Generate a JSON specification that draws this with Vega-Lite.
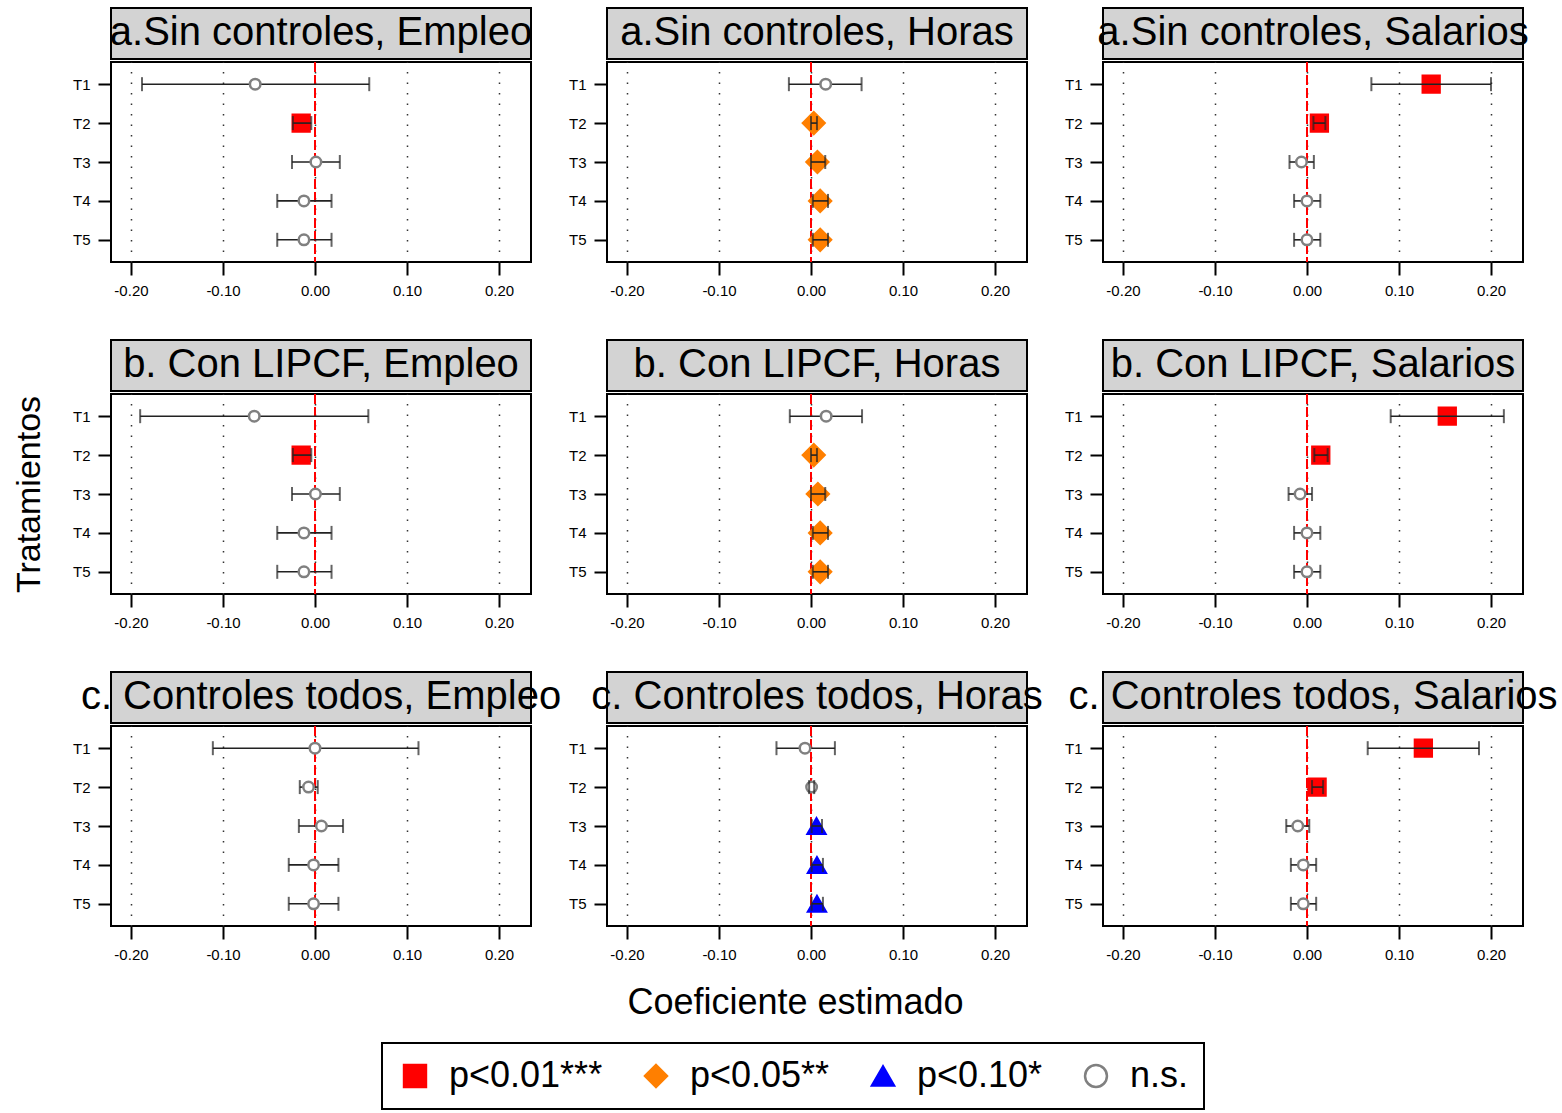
{
  "$schema": "https://vega.github.io/schema/vega-lite/v6.json",
  "padding": {"left": 11, "top": 7, "right": 0, "bottom": 0},
  "datasets": {
    "d": [
      {"panel": "a.Sin controles, Empleo", "trat": "T1", "est": -0.065, "lo": -0.188, "hi": 0.059, "sig": "n.s."},
      {"panel": "a.Sin controles, Empleo", "trat": "T2", "est": -0.015, "lo": -0.024, "hi": -0.004, "sig": "p<0.01***"},
      {"panel": "a.Sin controles, Empleo", "trat": "T3", "est": 0.001, "lo": -0.025, "hi": 0.027, "sig": "n.s."},
      {"panel": "a.Sin controles, Empleo", "trat": "T4", "est": -0.012, "lo": -0.041, "hi": 0.018, "sig": "n.s."},
      {"panel": "a.Sin controles, Empleo", "trat": "T5", "est": -0.012, "lo": -0.041, "hi": 0.018, "sig": "n.s."},
      {"panel": "a.Sin controles, Horas", "trat": "T1", "est": 0.016, "lo": -0.024, "hi": 0.055, "sig": "n.s."},
      {"panel": "a.Sin controles, Horas", "trat": "T2", "est": 0.003, "lo": 0.0, "hi": 0.0065, "sig": "p<0.05**"},
      {"panel": "a.Sin controles, Horas", "trat": "T3", "est": 0.007, "lo": 0.0, "hi": 0.0155, "sig": "p<0.05**"},
      {"panel": "a.Sin controles, Horas", "trat": "T4", "est": 0.010, "lo": 0.002, "hi": 0.0185, "sig": "p<0.05**"},
      {"panel": "a.Sin controles, Horas", "trat": "T5", "est": 0.010, "lo": 0.002, "hi": 0.0185, "sig": "p<0.05**"},
      {"panel": "a.Sin controles, Salarios", "trat": "T1", "est": 0.135, "lo": 0.070, "hi": 0.200, "sig": "p<0.01***"},
      {"panel": "a.Sin controles, Salarios", "trat": "T2", "est": 0.0135, "lo": 0.007, "hi": 0.020, "sig": "p<0.01***"},
      {"panel": "a.Sin controles, Salarios", "trat": "T3", "est": -0.006, "lo": -0.019, "hi": 0.0075, "sig": "n.s."},
      {"panel": "a.Sin controles, Salarios", "trat": "T4", "est": 0.0, "lo": -0.014, "hi": 0.0145, "sig": "n.s."},
      {"panel": "a.Sin controles, Salarios", "trat": "T5", "est": 0.0, "lo": -0.014, "hi": 0.0145, "sig": "n.s."},
      {"panel": "b. Con LIPCF, Empleo", "trat": "T1", "est": -0.066, "lo": -0.190, "hi": 0.058, "sig": "n.s."},
      {"panel": "b. Con LIPCF, Empleo", "trat": "T2", "est": -0.015, "lo": -0.024, "hi": -0.004, "sig": "p<0.01***"},
      {"panel": "b. Con LIPCF, Empleo", "trat": "T3", "est": 0.0005, "lo": -0.025, "hi": 0.027, "sig": "n.s."},
      {"panel": "b. Con LIPCF, Empleo", "trat": "T4", "est": -0.012, "lo": -0.041, "hi": 0.018, "sig": "n.s."},
      {"panel": "b. Con LIPCF, Empleo", "trat": "T5", "est": -0.012, "lo": -0.041, "hi": 0.018, "sig": "n.s."},
      {"panel": "b. Con LIPCF, Horas", "trat": "T1", "est": 0.0165, "lo": -0.023, "hi": 0.0555, "sig": "n.s."},
      {"panel": "b. Con LIPCF, Horas", "trat": "T2", "est": 0.003, "lo": 0.0, "hi": 0.0065, "sig": "p<0.05**"},
      {"panel": "b. Con LIPCF, Horas", "trat": "T3", "est": 0.0075, "lo": 0.0, "hi": 0.0155, "sig": "p<0.05**"},
      {"panel": "b. Con LIPCF, Horas", "trat": "T4", "est": 0.010, "lo": 0.002, "hi": 0.0185, "sig": "p<0.05**"},
      {"panel": "b. Con LIPCF, Horas", "trat": "T5", "est": 0.010, "lo": 0.002, "hi": 0.0185, "sig": "p<0.05**"},
      {"panel": "b. Con LIPCF, Salarios", "trat": "T1", "est": 0.1525, "lo": 0.091, "hi": 0.214, "sig": "p<0.01***"},
      {"panel": "b. Con LIPCF, Salarios", "trat": "T2", "est": 0.015, "lo": 0.008, "hi": 0.0225, "sig": "p<0.01***"},
      {"panel": "b. Con LIPCF, Salarios", "trat": "T3", "est": -0.0075, "lo": -0.020, "hi": 0.0055, "sig": "n.s."},
      {"panel": "b. Con LIPCF, Salarios", "trat": "T4", "est": 0.0, "lo": -0.014, "hi": 0.0145, "sig": "n.s."},
      {"panel": "b. Con LIPCF, Salarios", "trat": "T5", "est": 0.0, "lo": -0.014, "hi": 0.0145, "sig": "n.s."},
      {"panel": "c. Controles todos, Empleo", "trat": "T1", "est": 0.0, "lo": -0.111, "hi": 0.1125, "sig": "n.s."},
      {"panel": "c. Controles todos, Empleo", "trat": "T2", "est": -0.007, "lo": -0.0165, "hi": 0.003, "sig": "n.s."},
      {"panel": "c. Controles todos, Empleo", "trat": "T3", "est": 0.007, "lo": -0.0175, "hi": 0.0305, "sig": "n.s."},
      {"panel": "c. Controles todos, Empleo", "trat": "T4", "est": -0.0015, "lo": -0.0285, "hi": 0.0255, "sig": "n.s."},
      {"panel": "c. Controles todos, Empleo", "trat": "T5", "est": -0.0015, "lo": -0.0285, "hi": 0.0255, "sig": "n.s."},
      {"panel": "c. Controles todos, Horas", "trat": "T1", "est": -0.0065, "lo": -0.0375, "hi": 0.026, "sig": "n.s."},
      {"panel": "c. Controles todos, Horas", "trat": "T2", "est": 0.0007, "lo": -0.002, "hi": 0.0035, "sig": "n.s."},
      {"panel": "c. Controles todos, Horas", "trat": "T3", "est": 0.006, "lo": 0.0007, "hi": 0.012, "sig": "p<0.10*"},
      {"panel": "c. Controles todos, Horas", "trat": "T4", "est": 0.0065, "lo": 0.0007, "hi": 0.013, "sig": "p<0.10*"},
      {"panel": "c. Controles todos, Horas", "trat": "T5", "est": 0.0065, "lo": 0.0007, "hi": 0.013, "sig": "p<0.10*"},
      {"panel": "c. Controles todos, Salarios", "trat": "T1", "est": 0.1265, "lo": 0.066, "hi": 0.187, "sig": "p<0.01***"},
      {"panel": "c. Controles todos, Salarios", "trat": "T2", "est": 0.011, "lo": 0.0055, "hi": 0.0175, "sig": "p<0.01***"},
      {"panel": "c. Controles todos, Salarios", "trat": "T3", "est": -0.010, "lo": -0.0225, "hi": 0.0025, "sig": "n.s."},
      {"panel": "c. Controles todos, Salarios", "trat": "T4", "est": -0.004, "lo": -0.0175, "hi": 0.010, "sig": "n.s."},
      {"panel": "c. Controles todos, Salarios", "trat": "T5", "est": -0.004, "lo": -0.0175, "hi": 0.010, "sig": "n.s."}
    ]
  },
  "columns": 3,
  "align": {"row": "each", "column": "all"},
  "spacing": {"row": 40, "column": 0},
  "concat": [
    {"spacing": 0, "vconcat": [
      {"width": 420, "height": 51, "view": {"fill": "#d3d3d3", "stroke": "black", "strokeWidth": 2}, "data": {"values": [{"t": "a.Sin controles, Empleo"}]}, "mark": {"type": "text", "fontSize": 40, "baseline": "alphabetic", "dy": 11, "color": "black"}, "encoding": {"text": {"field": "t", "type": "nominal"}}},
      {"width": 420, "height": 200, "data": {"name": "d"}, "transform": [{"filter": "datum.panel === 'a.Sin controles, Empleo'"}], "layer": [
        {"mark": {"type": "rule", "color": "#ff0000", "strokeDash": [10, 3], "strokeWidth": 1.5}, "encoding": {"x": {"datum": 0, "type": "quantitative", "scale": {"domain": [-0.2217, 0.2348], "nice": false, "zero": false}, "axis": {"values": [-0.2, -0.1, 0, 0.1, 0.2], "labelExpr": "replace(format(datum.value, '.2f'), '−', '-')", "title": null}}}},
        {"transform": [{"filter": "datum.sig !== 'n.s.'"}], "mark": {"type": "point", "strokeWidth": 2, "opacity": 1, "fillOpacity": 1}, "encoding": {"x": {"field": "est", "type": "quantitative"}, "y": {"field": "trat", "type": "ordinal", "scale": {"type": "point", "domain": ["T1", "T2", "T3", "T4", "T5"], "padding": 0.57}, "axis": {"title": null}}, "shape": {"field": "sig", "type": "nominal", "title": null, "scale": {"domain": ["p<0.01***", "p<0.05**", "p<0.10*", "n.s."], "range": ["square", "diamond", "triangle-up", "circle"]}}, "fill": {"field": "sig", "type": "nominal", "title": null, "scale": {"domain": ["p<0.01***", "p<0.05**", "p<0.10*", "n.s."], "range": ["#ff0000", "#ff7f00", "#0000ff", "#ffffff"]}}, "stroke": {"field": "sig", "type": "nominal", "title": null, "scale": {"domain": ["p<0.01***", "p<0.05**", "p<0.10*", "n.s."], "range": ["#ff0000", "#ff7f00", "#0000ff", "#808080"]}}, "size": {"condition": [{"test": "datum.sig === 'n.s.'", "value": 110}, {"test": "datum.sig === 'p<0.05**'", "value": 500}, {"test": "datum.sig === 'p<0.10*'", "value": 340}], "value": 300}}},
        {"mark": {"type": "rule", "color": "#222222", "strokeWidth": 1.6}, "encoding": {"x": {"field": "lo", "type": "quantitative"}, "x2": {"field": "hi"}, "y": {"field": "trat", "type": "ordinal"}}},
        {"transform": [{"filter": "datum.sig === 'n.s.'"}], "mark": {"type": "point", "strokeWidth": 2.5, "opacity": 1, "fillOpacity": 1, "size": 110}, "encoding": {"x": {"field": "est", "type": "quantitative"}, "y": {"field": "trat", "type": "ordinal"}, "shape": {"field": "sig", "type": "nominal", "title": null}, "fill": {"field": "sig", "type": "nominal", "title": null}, "stroke": {"field": "sig", "type": "nominal", "title": null}}},
        {"mark": {"type": "tick", "color": "#222222", "thickness": 2, "size": 14}, "encoding": {"x": {"field": "lo", "type": "quantitative"}, "y": {"field": "trat", "type": "ordinal"}}},
        {"mark": {"type": "tick", "color": "#222222", "thickness": 2, "size": 14}, "encoding": {"x": {"field": "hi", "type": "quantitative"}, "y": {"field": "trat", "type": "ordinal"}}}
      ]}
    ]},
    {"spacing": 0, "vconcat": [
      {"width": 420, "height": 51, "view": {"fill": "#d3d3d3", "stroke": "black", "strokeWidth": 2}, "data": {"values": [{"t": "a.Sin controles, Horas"}]}, "mark": {"type": "text", "fontSize": 40, "baseline": "alphabetic", "dy": 11, "color": "black"}, "encoding": {"text": {"field": "t", "type": "nominal"}}},
      {"width": 420, "height": 200, "data": {"name": "d"}, "transform": [{"filter": "datum.panel === 'a.Sin controles, Horas'"}], "layer": [
        {"mark": {"type": "rule", "color": "#ff0000", "strokeDash": [10, 3], "strokeWidth": 1.5}, "encoding": {"x": {"datum": 0, "type": "quantitative", "scale": {"domain": [-0.2217, 0.2348], "nice": false, "zero": false}, "axis": {"values": [-0.2, -0.1, 0, 0.1, 0.2], "labelExpr": "replace(format(datum.value, '.2f'), '−', '-')", "title": null}}}},
        {"transform": [{"filter": "datum.sig !== 'n.s.'"}], "mark": {"type": "point", "strokeWidth": 2, "opacity": 1, "fillOpacity": 1}, "encoding": {"x": {"field": "est", "type": "quantitative"}, "y": {"field": "trat", "type": "ordinal", "scale": {"type": "point", "domain": ["T1", "T2", "T3", "T4", "T5"], "padding": 0.57}, "axis": {"title": null}}, "shape": {"field": "sig", "type": "nominal", "title": null, "scale": {"domain": ["p<0.01***", "p<0.05**", "p<0.10*", "n.s."], "range": ["square", "diamond", "triangle-up", "circle"]}}, "fill": {"field": "sig", "type": "nominal", "title": null, "scale": {"domain": ["p<0.01***", "p<0.05**", "p<0.10*", "n.s."], "range": ["#ff0000", "#ff7f00", "#0000ff", "#ffffff"]}}, "stroke": {"field": "sig", "type": "nominal", "title": null, "scale": {"domain": ["p<0.01***", "p<0.05**", "p<0.10*", "n.s."], "range": ["#ff0000", "#ff7f00", "#0000ff", "#808080"]}}, "size": {"condition": [{"test": "datum.sig === 'n.s.'", "value": 110}, {"test": "datum.sig === 'p<0.05**'", "value": 500}, {"test": "datum.sig === 'p<0.10*'", "value": 340}], "value": 300}}},
        {"mark": {"type": "rule", "color": "#222222", "strokeWidth": 1.6}, "encoding": {"x": {"field": "lo", "type": "quantitative"}, "x2": {"field": "hi"}, "y": {"field": "trat", "type": "ordinal"}}},
        {"transform": [{"filter": "datum.sig === 'n.s.'"}], "mark": {"type": "point", "strokeWidth": 2.5, "opacity": 1, "fillOpacity": 1, "size": 110}, "encoding": {"x": {"field": "est", "type": "quantitative"}, "y": {"field": "trat", "type": "ordinal"}, "shape": {"field": "sig", "type": "nominal", "title": null}, "fill": {"field": "sig", "type": "nominal", "title": null}, "stroke": {"field": "sig", "type": "nominal", "title": null}}},
        {"mark": {"type": "tick", "color": "#222222", "thickness": 2, "size": 14}, "encoding": {"x": {"field": "lo", "type": "quantitative"}, "y": {"field": "trat", "type": "ordinal"}}},
        {"mark": {"type": "tick", "color": "#222222", "thickness": 2, "size": 14}, "encoding": {"x": {"field": "hi", "type": "quantitative"}, "y": {"field": "trat", "type": "ordinal"}}}
      ]}
    ]},
    {"spacing": 0, "vconcat": [
      {"width": 420, "height": 51, "view": {"fill": "#d3d3d3", "stroke": "black", "strokeWidth": 2}, "data": {"values": [{"t": "a.Sin controles, Salarios"}]}, "mark": {"type": "text", "fontSize": 40, "baseline": "alphabetic", "dy": 11, "color": "black"}, "encoding": {"text": {"field": "t", "type": "nominal"}}},
      {"width": 420, "height": 200, "data": {"name": "d"}, "transform": [{"filter": "datum.panel === 'a.Sin controles, Salarios'"}], "layer": [
        {"mark": {"type": "rule", "color": "#ff0000", "strokeDash": [10, 3], "strokeWidth": 1.5}, "encoding": {"x": {"datum": 0, "type": "quantitative", "scale": {"domain": [-0.2217, 0.2348], "nice": false, "zero": false}, "axis": {"values": [-0.2, -0.1, 0, 0.1, 0.2], "labelExpr": "replace(format(datum.value, '.2f'), '−', '-')", "title": null}}}},
        {"transform": [{"filter": "datum.sig !== 'n.s.'"}], "mark": {"type": "point", "strokeWidth": 2, "opacity": 1, "fillOpacity": 1}, "encoding": {"x": {"field": "est", "type": "quantitative"}, "y": {"field": "trat", "type": "ordinal", "scale": {"type": "point", "domain": ["T1", "T2", "T3", "T4", "T5"], "padding": 0.57}, "axis": {"title": null}}, "shape": {"field": "sig", "type": "nominal", "title": null, "scale": {"domain": ["p<0.01***", "p<0.05**", "p<0.10*", "n.s."], "range": ["square", "diamond", "triangle-up", "circle"]}}, "fill": {"field": "sig", "type": "nominal", "title": null, "scale": {"domain": ["p<0.01***", "p<0.05**", "p<0.10*", "n.s."], "range": ["#ff0000", "#ff7f00", "#0000ff", "#ffffff"]}}, "stroke": {"field": "sig", "type": "nominal", "title": null, "scale": {"domain": ["p<0.01***", "p<0.05**", "p<0.10*", "n.s."], "range": ["#ff0000", "#ff7f00", "#0000ff", "#808080"]}}, "size": {"condition": [{"test": "datum.sig === 'n.s.'", "value": 110}, {"test": "datum.sig === 'p<0.05**'", "value": 500}, {"test": "datum.sig === 'p<0.10*'", "value": 340}], "value": 300}}},
        {"mark": {"type": "rule", "color": "#222222", "strokeWidth": 1.6}, "encoding": {"x": {"field": "lo", "type": "quantitative"}, "x2": {"field": "hi"}, "y": {"field": "trat", "type": "ordinal"}}},
        {"transform": [{"filter": "datum.sig === 'n.s.'"}], "mark": {"type": "point", "strokeWidth": 2.5, "opacity": 1, "fillOpacity": 1, "size": 110}, "encoding": {"x": {"field": "est", "type": "quantitative"}, "y": {"field": "trat", "type": "ordinal"}, "shape": {"field": "sig", "type": "nominal", "title": null}, "fill": {"field": "sig", "type": "nominal", "title": null}, "stroke": {"field": "sig", "type": "nominal", "title": null}}},
        {"mark": {"type": "tick", "color": "#222222", "thickness": 2, "size": 14}, "encoding": {"x": {"field": "lo", "type": "quantitative"}, "y": {"field": "trat", "type": "ordinal"}}},
        {"mark": {"type": "tick", "color": "#222222", "thickness": 2, "size": 14}, "encoding": {"x": {"field": "hi", "type": "quantitative"}, "y": {"field": "trat", "type": "ordinal"}}}
      ]}
    ]},
    {"spacing": 0, "vconcat": [
      {"width": 420, "height": 51, "view": {"fill": "#d3d3d3", "stroke": "black", "strokeWidth": 2}, "data": {"values": [{"t": "b. Con LIPCF, Empleo"}]}, "mark": {"type": "text", "fontSize": 40, "baseline": "alphabetic", "dy": 11, "color": "black"}, "encoding": {"text": {"field": "t", "type": "nominal"}}},
      {"width": 420, "height": 200, "data": {"name": "d"}, "transform": [{"filter": "datum.panel === 'b. Con LIPCF, Empleo'"}], "layer": [
        {"mark": {"type": "rule", "color": "#ff0000", "strokeDash": [10, 3], "strokeWidth": 1.5}, "encoding": {"x": {"datum": 0, "type": "quantitative", "scale": {"domain": [-0.2217, 0.2348], "nice": false, "zero": false}, "axis": {"values": [-0.2, -0.1, 0, 0.1, 0.2], "labelExpr": "replace(format(datum.value, '.2f'), '−', '-')", "title": null}}}},
        {"transform": [{"filter": "datum.sig !== 'n.s.'"}], "mark": {"type": "point", "strokeWidth": 2, "opacity": 1, "fillOpacity": 1}, "encoding": {"x": {"field": "est", "type": "quantitative"}, "y": {"field": "trat", "type": "ordinal", "scale": {"type": "point", "domain": ["T1", "T2", "T3", "T4", "T5"], "padding": 0.57}, "axis": {"title": "Tratamientos", "titlePadding": 26}}, "shape": {"field": "sig", "type": "nominal", "title": null, "scale": {"domain": ["p<0.01***", "p<0.05**", "p<0.10*", "n.s."], "range": ["square", "diamond", "triangle-up", "circle"]}}, "fill": {"field": "sig", "type": "nominal", "title": null, "scale": {"domain": ["p<0.01***", "p<0.05**", "p<0.10*", "n.s."], "range": ["#ff0000", "#ff7f00", "#0000ff", "#ffffff"]}}, "stroke": {"field": "sig", "type": "nominal", "title": null, "scale": {"domain": ["p<0.01***", "p<0.05**", "p<0.10*", "n.s."], "range": ["#ff0000", "#ff7f00", "#0000ff", "#808080"]}}, "size": {"condition": [{"test": "datum.sig === 'n.s.'", "value": 110}, {"test": "datum.sig === 'p<0.05**'", "value": 500}, {"test": "datum.sig === 'p<0.10*'", "value": 340}], "value": 300}}},
        {"mark": {"type": "rule", "color": "#222222", "strokeWidth": 1.6}, "encoding": {"x": {"field": "lo", "type": "quantitative"}, "x2": {"field": "hi"}, "y": {"field": "trat", "type": "ordinal"}}},
        {"transform": [{"filter": "datum.sig === 'n.s.'"}], "mark": {"type": "point", "strokeWidth": 2.5, "opacity": 1, "fillOpacity": 1, "size": 110}, "encoding": {"x": {"field": "est", "type": "quantitative"}, "y": {"field": "trat", "type": "ordinal"}, "shape": {"field": "sig", "type": "nominal", "title": null}, "fill": {"field": "sig", "type": "nominal", "title": null}, "stroke": {"field": "sig", "type": "nominal", "title": null}}},
        {"mark": {"type": "tick", "color": "#222222", "thickness": 2, "size": 14}, "encoding": {"x": {"field": "lo", "type": "quantitative"}, "y": {"field": "trat", "type": "ordinal"}}},
        {"mark": {"type": "tick", "color": "#222222", "thickness": 2, "size": 14}, "encoding": {"x": {"field": "hi", "type": "quantitative"}, "y": {"field": "trat", "type": "ordinal"}}}
      ]}
    ]},
    {"spacing": 0, "vconcat": [
      {"width": 420, "height": 51, "view": {"fill": "#d3d3d3", "stroke": "black", "strokeWidth": 2}, "data": {"values": [{"t": "b. Con LIPCF, Horas"}]}, "mark": {"type": "text", "fontSize": 40, "baseline": "alphabetic", "dy": 11, "color": "black"}, "encoding": {"text": {"field": "t", "type": "nominal"}}},
      {"width": 420, "height": 200, "data": {"name": "d"}, "transform": [{"filter": "datum.panel === 'b. Con LIPCF, Horas'"}], "layer": [
        {"mark": {"type": "rule", "color": "#ff0000", "strokeDash": [10, 3], "strokeWidth": 1.5}, "encoding": {"x": {"datum": 0, "type": "quantitative", "scale": {"domain": [-0.2217, 0.2348], "nice": false, "zero": false}, "axis": {"values": [-0.2, -0.1, 0, 0.1, 0.2], "labelExpr": "replace(format(datum.value, '.2f'), '−', '-')", "title": null}}}},
        {"transform": [{"filter": "datum.sig !== 'n.s.'"}], "mark": {"type": "point", "strokeWidth": 2, "opacity": 1, "fillOpacity": 1}, "encoding": {"x": {"field": "est", "type": "quantitative"}, "y": {"field": "trat", "type": "ordinal", "scale": {"type": "point", "domain": ["T1", "T2", "T3", "T4", "T5"], "padding": 0.57}, "axis": {"title": null}}, "shape": {"field": "sig", "type": "nominal", "title": null, "scale": {"domain": ["p<0.01***", "p<0.05**", "p<0.10*", "n.s."], "range": ["square", "diamond", "triangle-up", "circle"]}}, "fill": {"field": "sig", "type": "nominal", "title": null, "scale": {"domain": ["p<0.01***", "p<0.05**", "p<0.10*", "n.s."], "range": ["#ff0000", "#ff7f00", "#0000ff", "#ffffff"]}}, "stroke": {"field": "sig", "type": "nominal", "title": null, "scale": {"domain": ["p<0.01***", "p<0.05**", "p<0.10*", "n.s."], "range": ["#ff0000", "#ff7f00", "#0000ff", "#808080"]}}, "size": {"condition": [{"test": "datum.sig === 'n.s.'", "value": 110}, {"test": "datum.sig === 'p<0.05**'", "value": 500}, {"test": "datum.sig === 'p<0.10*'", "value": 340}], "value": 300}}},
        {"mark": {"type": "rule", "color": "#222222", "strokeWidth": 1.6}, "encoding": {"x": {"field": "lo", "type": "quantitative"}, "x2": {"field": "hi"}, "y": {"field": "trat", "type": "ordinal"}}},
        {"transform": [{"filter": "datum.sig === 'n.s.'"}], "mark": {"type": "point", "strokeWidth": 2.5, "opacity": 1, "fillOpacity": 1, "size": 110}, "encoding": {"x": {"field": "est", "type": "quantitative"}, "y": {"field": "trat", "type": "ordinal"}, "shape": {"field": "sig", "type": "nominal", "title": null}, "fill": {"field": "sig", "type": "nominal", "title": null}, "stroke": {"field": "sig", "type": "nominal", "title": null}}},
        {"mark": {"type": "tick", "color": "#222222", "thickness": 2, "size": 14}, "encoding": {"x": {"field": "lo", "type": "quantitative"}, "y": {"field": "trat", "type": "ordinal"}}},
        {"mark": {"type": "tick", "color": "#222222", "thickness": 2, "size": 14}, "encoding": {"x": {"field": "hi", "type": "quantitative"}, "y": {"field": "trat", "type": "ordinal"}}}
      ]}
    ]},
    {"spacing": 0, "vconcat": [
      {"width": 420, "height": 51, "view": {"fill": "#d3d3d3", "stroke": "black", "strokeWidth": 2}, "data": {"values": [{"t": "b. Con LIPCF, Salarios"}]}, "mark": {"type": "text", "fontSize": 40, "baseline": "alphabetic", "dy": 11, "color": "black"}, "encoding": {"text": {"field": "t", "type": "nominal"}}},
      {"width": 420, "height": 200, "data": {"name": "d"}, "transform": [{"filter": "datum.panel === 'b. Con LIPCF, Salarios'"}], "layer": [
        {"mark": {"type": "rule", "color": "#ff0000", "strokeDash": [10, 3], "strokeWidth": 1.5}, "encoding": {"x": {"datum": 0, "type": "quantitative", "scale": {"domain": [-0.2217, 0.2348], "nice": false, "zero": false}, "axis": {"values": [-0.2, -0.1, 0, 0.1, 0.2], "labelExpr": "replace(format(datum.value, '.2f'), '−', '-')", "title": null}}}},
        {"transform": [{"filter": "datum.sig !== 'n.s.'"}], "mark": {"type": "point", "strokeWidth": 2, "opacity": 1, "fillOpacity": 1}, "encoding": {"x": {"field": "est", "type": "quantitative"}, "y": {"field": "trat", "type": "ordinal", "scale": {"type": "point", "domain": ["T1", "T2", "T3", "T4", "T5"], "padding": 0.57}, "axis": {"title": null}}, "shape": {"field": "sig", "type": "nominal", "title": null, "scale": {"domain": ["p<0.01***", "p<0.05**", "p<0.10*", "n.s."], "range": ["square", "diamond", "triangle-up", "circle"]}}, "fill": {"field": "sig", "type": "nominal", "title": null, "scale": {"domain": ["p<0.01***", "p<0.05**", "p<0.10*", "n.s."], "range": ["#ff0000", "#ff7f00", "#0000ff", "#ffffff"]}}, "stroke": {"field": "sig", "type": "nominal", "title": null, "scale": {"domain": ["p<0.01***", "p<0.05**", "p<0.10*", "n.s."], "range": ["#ff0000", "#ff7f00", "#0000ff", "#808080"]}}, "size": {"condition": [{"test": "datum.sig === 'n.s.'", "value": 110}, {"test": "datum.sig === 'p<0.05**'", "value": 500}, {"test": "datum.sig === 'p<0.10*'", "value": 340}], "value": 300}}},
        {"mark": {"type": "rule", "color": "#222222", "strokeWidth": 1.6}, "encoding": {"x": {"field": "lo", "type": "quantitative"}, "x2": {"field": "hi"}, "y": {"field": "trat", "type": "ordinal"}}},
        {"transform": [{"filter": "datum.sig === 'n.s.'"}], "mark": {"type": "point", "strokeWidth": 2.5, "opacity": 1, "fillOpacity": 1, "size": 110}, "encoding": {"x": {"field": "est", "type": "quantitative"}, "y": {"field": "trat", "type": "ordinal"}, "shape": {"field": "sig", "type": "nominal", "title": null}, "fill": {"field": "sig", "type": "nominal", "title": null}, "stroke": {"field": "sig", "type": "nominal", "title": null}}},
        {"mark": {"type": "tick", "color": "#222222", "thickness": 2, "size": 14}, "encoding": {"x": {"field": "lo", "type": "quantitative"}, "y": {"field": "trat", "type": "ordinal"}}},
        {"mark": {"type": "tick", "color": "#222222", "thickness": 2, "size": 14}, "encoding": {"x": {"field": "hi", "type": "quantitative"}, "y": {"field": "trat", "type": "ordinal"}}}
      ]}
    ]},
    {"spacing": 0, "vconcat": [
      {"width": 420, "height": 51, "view": {"fill": "#d3d3d3", "stroke": "black", "strokeWidth": 2}, "data": {"values": [{"t": "c. Controles todos, Empleo"}]}, "mark": {"type": "text", "fontSize": 40, "baseline": "alphabetic", "dy": 11, "color": "black"}, "encoding": {"text": {"field": "t", "type": "nominal"}}},
      {"width": 420, "height": 200, "data": {"name": "d"}, "transform": [{"filter": "datum.panel === 'c. Controles todos, Empleo'"}], "layer": [
        {"mark": {"type": "rule", "color": "#ff0000", "strokeDash": [10, 3], "strokeWidth": 1.5}, "encoding": {"x": {"datum": 0, "type": "quantitative", "scale": {"domain": [-0.2217, 0.2348], "nice": false, "zero": false}, "axis": {"values": [-0.2, -0.1, 0, 0.1, 0.2], "labelExpr": "replace(format(datum.value, '.2f'), '−', '-')", "title": null}}}},
        {"transform": [{"filter": "datum.sig !== 'n.s.'"}], "mark": {"type": "point", "strokeWidth": 2, "opacity": 1, "fillOpacity": 1}, "encoding": {"x": {"field": "est", "type": "quantitative"}, "y": {"field": "trat", "type": "ordinal", "scale": {"type": "point", "domain": ["T1", "T2", "T3", "T4", "T5"], "padding": 0.57}, "axis": {"title": null}}, "shape": {"field": "sig", "type": "nominal", "title": null, "scale": {"domain": ["p<0.01***", "p<0.05**", "p<0.10*", "n.s."], "range": ["square", "diamond", "triangle-up", "circle"]}}, "fill": {"field": "sig", "type": "nominal", "title": null, "scale": {"domain": ["p<0.01***", "p<0.05**", "p<0.10*", "n.s."], "range": ["#ff0000", "#ff7f00", "#0000ff", "#ffffff"]}}, "stroke": {"field": "sig", "type": "nominal", "title": null, "scale": {"domain": ["p<0.01***", "p<0.05**", "p<0.10*", "n.s."], "range": ["#ff0000", "#ff7f00", "#0000ff", "#808080"]}}, "size": {"condition": [{"test": "datum.sig === 'n.s.'", "value": 110}, {"test": "datum.sig === 'p<0.05**'", "value": 500}, {"test": "datum.sig === 'p<0.10*'", "value": 340}], "value": 300}}},
        {"mark": {"type": "rule", "color": "#222222", "strokeWidth": 1.6}, "encoding": {"x": {"field": "lo", "type": "quantitative"}, "x2": {"field": "hi"}, "y": {"field": "trat", "type": "ordinal"}}},
        {"transform": [{"filter": "datum.sig === 'n.s.'"}], "mark": {"type": "point", "strokeWidth": 2.5, "opacity": 1, "fillOpacity": 1, "size": 110}, "encoding": {"x": {"field": "est", "type": "quantitative"}, "y": {"field": "trat", "type": "ordinal"}, "shape": {"field": "sig", "type": "nominal", "title": null}, "fill": {"field": "sig", "type": "nominal", "title": null}, "stroke": {"field": "sig", "type": "nominal", "title": null}}},
        {"mark": {"type": "tick", "color": "#222222", "thickness": 2, "size": 14}, "encoding": {"x": {"field": "lo", "type": "quantitative"}, "y": {"field": "trat", "type": "ordinal"}}},
        {"mark": {"type": "tick", "color": "#222222", "thickness": 2, "size": 14}, "encoding": {"x": {"field": "hi", "type": "quantitative"}, "y": {"field": "trat", "type": "ordinal"}}}
      ]}
    ]},
    {"spacing": 0, "vconcat": [
      {"width": 420, "height": 51, "view": {"fill": "#d3d3d3", "stroke": "black", "strokeWidth": 2}, "data": {"values": [{"t": "c. Controles todos, Horas"}]}, "mark": {"type": "text", "fontSize": 40, "baseline": "alphabetic", "dy": 11, "color": "black"}, "encoding": {"text": {"field": "t", "type": "nominal"}}},
      {"width": 420, "height": 200, "data": {"name": "d"}, "transform": [{"filter": "datum.panel === 'c. Controles todos, Horas'"}], "layer": [
        {"mark": {"type": "rule", "color": "#ff0000", "strokeDash": [10, 3], "strokeWidth": 1.5}, "encoding": {"x": {"datum": 0, "type": "quantitative", "scale": {"domain": [-0.2217, 0.2348], "nice": false, "zero": false}, "axis": {"values": [-0.2, -0.1, 0, 0.1, 0.2], "labelExpr": "replace(format(datum.value, '.2f'), '−', '-')", "title": "Coeficiente estimado", "titleX": 188, "titlePadding": 23, "titleFontSize": 36}}}},
        {"transform": [{"filter": "datum.sig !== 'n.s.'"}], "mark": {"type": "point", "strokeWidth": 2, "opacity": 1, "fillOpacity": 1}, "encoding": {"x": {"field": "est", "type": "quantitative"}, "y": {"field": "trat", "type": "ordinal", "scale": {"type": "point", "domain": ["T1", "T2", "T3", "T4", "T5"], "padding": 0.57}, "axis": {"title": null}}, "shape": {"field": "sig", "type": "nominal", "title": null, "scale": {"domain": ["p<0.01***", "p<0.05**", "p<0.10*", "n.s."], "range": ["square", "diamond", "triangle-up", "circle"]}}, "fill": {"field": "sig", "type": "nominal", "title": null, "scale": {"domain": ["p<0.01***", "p<0.05**", "p<0.10*", "n.s."], "range": ["#ff0000", "#ff7f00", "#0000ff", "#ffffff"]}}, "stroke": {"field": "sig", "type": "nominal", "title": null, "scale": {"domain": ["p<0.01***", "p<0.05**", "p<0.10*", "n.s."], "range": ["#ff0000", "#ff7f00", "#0000ff", "#808080"]}}, "size": {"condition": [{"test": "datum.sig === 'n.s.'", "value": 110}, {"test": "datum.sig === 'p<0.05**'", "value": 500}, {"test": "datum.sig === 'p<0.10*'", "value": 340}], "value": 300}}},
        {"mark": {"type": "rule", "color": "#222222", "strokeWidth": 1.6}, "encoding": {"x": {"field": "lo", "type": "quantitative"}, "x2": {"field": "hi"}, "y": {"field": "trat", "type": "ordinal"}}},
        {"transform": [{"filter": "datum.sig === 'n.s.'"}], "mark": {"type": "point", "strokeWidth": 2.5, "opacity": 1, "fillOpacity": 1, "size": 110}, "encoding": {"x": {"field": "est", "type": "quantitative"}, "y": {"field": "trat", "type": "ordinal"}, "shape": {"field": "sig", "type": "nominal", "title": null}, "fill": {"field": "sig", "type": "nominal", "title": null}, "stroke": {"field": "sig", "type": "nominal", "title": null}}},
        {"mark": {"type": "tick", "color": "#222222", "thickness": 2, "size": 14}, "encoding": {"x": {"field": "lo", "type": "quantitative"}, "y": {"field": "trat", "type": "ordinal"}}},
        {"mark": {"type": "tick", "color": "#222222", "thickness": 2, "size": 14}, "encoding": {"x": {"field": "hi", "type": "quantitative"}, "y": {"field": "trat", "type": "ordinal"}}}
      ]}
    ]},
    {"spacing": 0, "vconcat": [
      {"width": 420, "height": 51, "view": {"fill": "#d3d3d3", "stroke": "black", "strokeWidth": 2}, "data": {"values": [{"t": "c. Controles todos, Salarios"}]}, "mark": {"type": "text", "fontSize": 40, "baseline": "alphabetic", "dy": 11, "color": "black"}, "encoding": {"text": {"field": "t", "type": "nominal"}}},
      {"width": 420, "height": 200, "data": {"name": "d"}, "transform": [{"filter": "datum.panel === 'c. Controles todos, Salarios'"}], "layer": [
        {"mark": {"type": "rule", "color": "#ff0000", "strokeDash": [10, 3], "strokeWidth": 1.5}, "encoding": {"x": {"datum": 0, "type": "quantitative", "scale": {"domain": [-0.2217, 0.2348], "nice": false, "zero": false}, "axis": {"values": [-0.2, -0.1, 0, 0.1, 0.2], "labelExpr": "replace(format(datum.value, '.2f'), '−', '-')", "title": null}}}},
        {"transform": [{"filter": "datum.sig !== 'n.s.'"}], "mark": {"type": "point", "strokeWidth": 2, "opacity": 1, "fillOpacity": 1}, "encoding": {"x": {"field": "est", "type": "quantitative"}, "y": {"field": "trat", "type": "ordinal", "scale": {"type": "point", "domain": ["T1", "T2", "T3", "T4", "T5"], "padding": 0.57}, "axis": {"title": null}}, "shape": {"field": "sig", "type": "nominal", "title": null, "scale": {"domain": ["p<0.01***", "p<0.05**", "p<0.10*", "n.s."], "range": ["square", "diamond", "triangle-up", "circle"]}}, "fill": {"field": "sig", "type": "nominal", "title": null, "scale": {"domain": ["p<0.01***", "p<0.05**", "p<0.10*", "n.s."], "range": ["#ff0000", "#ff7f00", "#0000ff", "#ffffff"]}}, "stroke": {"field": "sig", "type": "nominal", "title": null, "scale": {"domain": ["p<0.01***", "p<0.05**", "p<0.10*", "n.s."], "range": ["#ff0000", "#ff7f00", "#0000ff", "#808080"]}}, "size": {"condition": [{"test": "datum.sig === 'n.s.'", "value": 110}, {"test": "datum.sig === 'p<0.05**'", "value": 500}, {"test": "datum.sig === 'p<0.10*'", "value": 340}], "value": 300}}},
        {"mark": {"type": "rule", "color": "#222222", "strokeWidth": 1.6}, "encoding": {"x": {"field": "lo", "type": "quantitative"}, "x2": {"field": "hi"}, "y": {"field": "trat", "type": "ordinal"}}},
        {"transform": [{"filter": "datum.sig === 'n.s.'"}], "mark": {"type": "point", "strokeWidth": 2.5, "opacity": 1, "fillOpacity": 1, "size": 110}, "encoding": {"x": {"field": "est", "type": "quantitative"}, "y": {"field": "trat", "type": "ordinal"}, "shape": {"field": "sig", "type": "nominal", "title": null}, "fill": {"field": "sig", "type": "nominal", "title": null}, "stroke": {"field": "sig", "type": "nominal", "title": null}}},
        {"mark": {"type": "tick", "color": "#222222", "thickness": 2, "size": 14}, "encoding": {"x": {"field": "lo", "type": "quantitative"}, "y": {"field": "trat", "type": "ordinal"}}},
        {"mark": {"type": "tick", "color": "#222222", "thickness": 2, "size": 14}, "encoding": {"x": {"field": "hi", "type": "quantitative"}, "y": {"field": "trat", "type": "ordinal"}}}
      ]}
    ]}
  ],
  "config": {
    "font": "Liberation Sans",
    "view": {"stroke": "black", "strokeWidth": 2},
    "axis": {"domain": false, "tickColor": "black", "tickWidth": 2, "tickSize": 13, "labelFontSize": 15, "labelColor": "black", "labelPadding": 8, "titleFontSize": 34, "titleFontWeight": "normal", "titleColor": "black"},
    "axisX": {"grid": true, "gridDash": [1.5, 9], "gridColor": "#333333", "gridWidth": 1.5, "labelFlush": false},
    "axisY": {"grid": false},
    "legend": {"orient": "none", "legendX": 271, "legendY": 1035, "direction": "horizontal", "strokeColor": "black", "strokeWidth": 2, "padding": 15, "labelFontSize": 36, "labelColor": "black", "labelOffset": 16, "labelLimit": 400, "columnPadding": 35, "symbolStrokeWidth": 2.5, "symbolSize": 480}
  }
}
